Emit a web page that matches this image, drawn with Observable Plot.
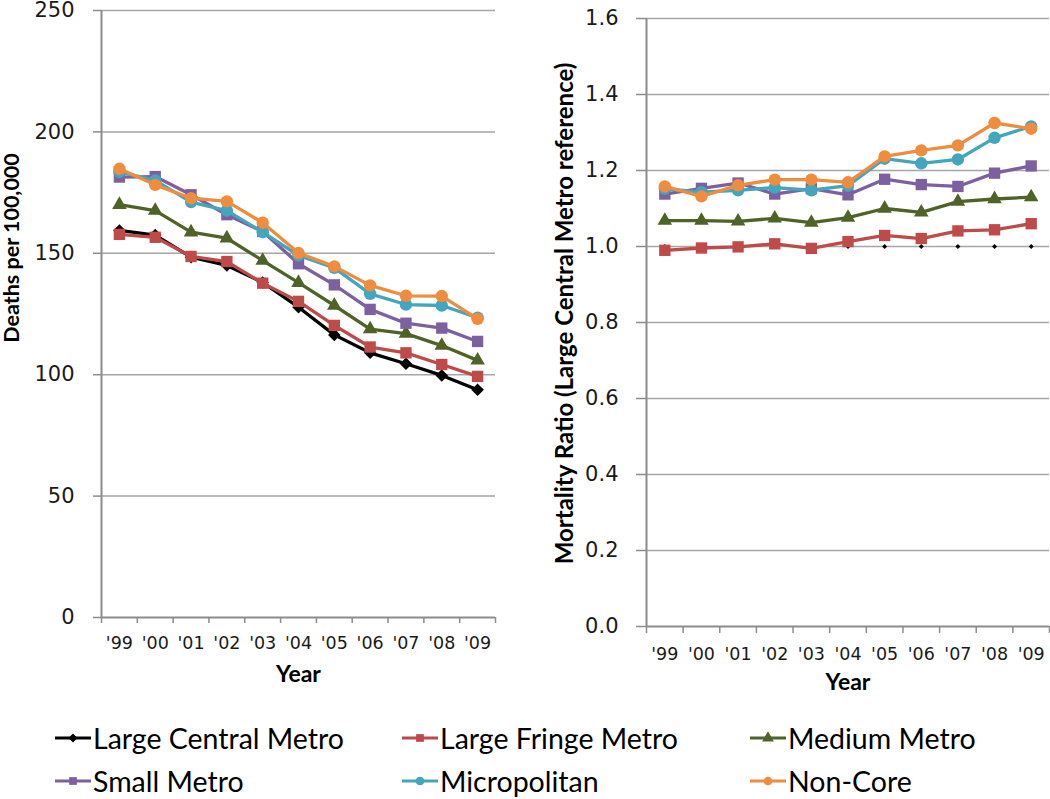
<!DOCTYPE html>
<html><head><meta charset="utf-8">
<script src="https://cdn.jsdelivr.net/npm/d3@7"></script>
<script src="https://cdn.jsdelivr.net/npm/@observablehq/plot@0.6"></script>
<style>
body{margin:0;background:#fff;width:1050px;height:799px;overflow:hidden;position:relative;font-family:Lato,sans-serif}
#left{position:absolute;left:0;top:0}
#right{position:absolute;left:530px;top:0}
#legend{position:absolute;left:55px;top:716px;display:grid;grid-template-columns:347px 348px auto;grid-auto-rows:43px;font-size:28.5px;color:#000}
.item{display:flex;align-items:center;white-space:nowrap}
.item svg{margin-right:2px}
</style></head><body>
<div id="left"></div><div id="right"></div><div id="legend"></div>
<script>
const years = [1999, 2000, 2001, 2002, 2003, 2004, 2005, 2006, 2007, 2008, 2009];
const yearLabels = ["'99", "'00", "'01", "'02", "'03", "'04", "'05", "'06", "'07", "'08", "'09"];
const seriesNames = ["Large Central Metro", "Large Fringe Metro", "Medium Metro", "Small Metro", "Micropolitan", "Non-Core"];
const seriesColors = ["#000000", "#BE4B48", "#4F6228", "#7D60A0", "#43A6BF", "#F08C3E"];
const seriesSymbols = ["diamond", "square", "triangle", "square", "circle", "circle"];

const deathsLargeCentral = [159.4, 157.5, 148.4, 145.0, 138.0, 127.8, 116.4, 109.0, 104.5, 99.7, 93.8];
const deathsLargeFringe  = [157.8, 156.6, 148.7, 146.6, 137.7, 130.2, 120.3, 111.4, 109.0, 104.2, 99.3];
const deathsMedium       = [170.0, 167.6, 158.7, 156.2, 147.0, 137.9, 128.5, 118.8, 116.9, 112.0, 105.9];
const deathsSmall        = [181.4, 181.6, 174.1, 165.9, 159.0, 145.7, 137.0, 126.9, 121.2, 119.2, 113.7];
const deathsMicro        = [183.5, 180.0, 171.1, 167.6, 158.7, 149.1, 144.0, 133.3, 128.9, 128.5, 123.5];
const deathsNonCore      = [184.8, 178.2, 172.7, 171.4, 162.6, 150.1, 144.6, 136.8, 132.5, 132.4, 123.0];

const ratioLargeCentral = [1.0, 1.0, 1.0, 1.0, 1.0, 1.0, 1.0, 1.0, 1.0, 1.0, 1.0];
const ratioLargeFringe  = [0.990, 0.996, 0.999, 1.007, 0.995, 1.013, 1.029, 1.021, 1.041, 1.044, 1.060];
const ratioMedium       = [1.068, 1.068, 1.066, 1.074, 1.063, 1.076, 1.100, 1.090, 1.118, 1.125, 1.130];
const ratioSmall        = [1.138, 1.153, 1.167, 1.138, 1.152, 1.136, 1.177, 1.163, 1.158, 1.193, 1.212];
const ratioMicro        = [1.152, 1.143, 1.148, 1.155, 1.148, 1.160, 1.231, 1.219, 1.229, 1.286, 1.316];
const ratioNonCore      = [1.158, 1.132, 1.161, 1.176, 1.176, 1.169, 1.237, 1.253, 1.266, 1.325, 1.310];

const deathTicks = [0, 50, 100, 150, 200, 250];
const ratioTicks = [0, 0.2, 0.4, 0.6, 0.8, 1.0, 1.2, 1.4, 1.6];

const deathSeries = [deathsLargeCentral, deathsLargeFringe, deathsMedium, deathsSmall, deathsMicro, deathsNonCore];
const ratioSeries = [ratioLargeCentral, ratioLargeFringe, ratioMedium, ratioSmall, ratioMicro, ratioNonCore];

const squareDiamond = {draw(ctx, size) { const s = Math.sqrt(size / 2); ctx.moveTo(0, -s); ctx.lineTo(s, 0); ctx.lineTo(0, s); ctx.lineTo(-s, 0); ctx.closePath(); }};
const symbolFor = s => s === "diamond" ? squareDiamond : s;
const radiusFor = s => s === "circle" ? 6.2 : s === "square" ? 6.4 : s === "triangle" ? 5.4 : 5;

const xDomain = [years[0] - 0.5, years[years.length - 1] + 0.5];
const edges = [...years.map(y => y - 0.5), years[years.length - 1] + 0.5];
const gridColor = "#a6a6a6";
const axisColor = "#8c8c8c";
const tickFont = "DejaVu Sans";

function rowsOf(arr, i) { return years.map((y, j) => ({year: y, value: arr[j], series: seriesNames[i]})); }

function seriesMarks(seriesArr, lineForFirst, firstR) {
  const marks = [];
  seriesArr.forEach((arr, i) => {
    const rows = rowsOf(arr, i);
    if (i > 0 || lineForFirst) marks.push(Plot.line(rows, {x: "year", y: "value", stroke: seriesColors[i], strokeWidth: 3.3}));
    marks.push(Plot.dot(rows, {x: "year", y: "value", symbol: symbolFor(seriesSymbols[i]), fill: seriesColors[i], stroke: "none",
      r: (i === 0 && firstR != null) ? firstR : radiusFor(seriesSymbols[i])}));
  });
  return marks;
}

function xAxes(tickLen, pad) {
  return [
    Plot.axisX({ticks: edges, tickSize: tickLen, tickFormat: () => "", stroke: axisColor, strokeWidth: 1.5, label: null}),
    Plot.axisX({ticks: years, tickSize: 0, tickPadding: pad, tickFormat: d => yearLabels[years.indexOf(d)], fontSize: 17.5, fill: "#1a1a1a", label: null})
  ];
}

const left = Plot.plot({
  width: 550, height: 700,
  marginLeft: 101, marginRight: 55, marginTop: 10, marginBottom: 83,
  x: {type: "linear", domain: xDomain},
  y: {domain: [0, 250]},
  style: {fontFamily: tickFont, background: "#fff", overflow: "visible"},
  marks: [
    Plot.ruleY(deathTicks.filter(d => d > 0), {stroke: gridColor, strokeWidth: 1.5}),
    Plot.axisY({ticks: deathTicks, tickSize: 8, tickPadding: 19, tickFormat: d3.format("d"), fontSize: 21, stroke: axisColor, strokeWidth: 1.5, fill: "#1a1a1a", label: null}),
    ...xAxes(6, 19),
    Plot.ruleY([deathTicks[0]], {stroke: axisColor, strokeWidth: 2}),
    Plot.ruleX([xDomain[0]], {stroke: axisColor, strokeWidth: 2}),
    ...seriesMarks(deathSeries, true),
    Plot.text(["Year"], {text: d => d, frameAnchor: "bottom", dy: 64, fontSize: 23, fontWeight: "bold", fontFamily: "Lato", fill: "#000"}),
    Plot.text(["Deaths per 100,000"], {text: d => d, frameAnchor: "left", textAnchor: "middle", rotate: -90, dx: -89, dy: -66, fontSize: 21.5, fontWeight: "bold", fontFamily: "Lato", fill: "#000"})
  ]
});
document.getElementById("left").appendChild(left);

const right = Plot.plot({
  width: 520, height: 710,
  marginLeft: 116, marginRight: 1, marginTop: 18, marginBottom: 84,
  x: {type: "linear", domain: xDomain},
  y: {domain: [0, 1.6]},
  style: {fontFamily: tickFont, background: "#fff", overflow: "visible"},
  marks: [
    Plot.ruleY(ratioTicks.filter(d => d > 0), {stroke: gridColor, strokeWidth: 1.5}),
    Plot.axisY({ticks: ratioTicks, tickSize: 10, tickPadding: 18, tickFormat: d3.format(".1f"), fontSize: 21, stroke: axisColor, strokeWidth: 1.5, fill: "#1a1a1a", label: null}),
    ...xAxes(7, 21),
    Plot.ruleY([ratioTicks[0]], {stroke: axisColor, strokeWidth: 2}),
    Plot.ruleX([xDomain[0]], {stroke: axisColor, strokeWidth: 2}),
    ...seriesMarks(ratioSeries, false, 2),
    Plot.text(["Year"], {text: d => d, frameAnchor: "bottom", dy: 63, fontSize: 23, fontWeight: "bold", fontFamily: "Lato", fill: "#000"}),
    Plot.text(["Mortality Ratio (Large Central Metro reference)"], {text: d => d, frameAnchor: "left", textAnchor: "middle", rotate: -90, dx: -81, dy: -9, fontSize: 24, fontWeight: "bold", fontFamily: "Lato", fill: "#000"})
  ]
});
document.getElementById("right").appendChild(right);

// legend
const legend = document.getElementById("legend");
seriesNames.forEach((name, i) => {
  const item = document.createElement("div");
  item.className = "item";
  const ns = "http://www.w3.org/2000/svg";
  const svg = document.createElementNS(ns, "svg");
  svg.setAttribute("width", 36); svg.setAttribute("height", 20);
  const line = document.createElementNS(ns, "line");
  line.setAttribute("x1", 0); line.setAttribute("x2", 36); line.setAttribute("y1", 10); line.setAttribute("y2", 10);
  line.setAttribute("stroke", seriesColors[i]); line.setAttribute("stroke-width", 3);
  svg.appendChild(line);
  const sym = seriesSymbols[i];
  const type = sym === "diamond" ? squareDiamond : sym === "square" ? d3.symbolSquare : sym === "triangle" ? d3.symbolTriangle : d3.symbolCircle;
  const path = document.createElementNS(ns, "path");
  path.setAttribute("d", d3.symbol(type, sym === "diamond" ? 40 : 60)());
  path.setAttribute("transform", "translate(18,10)");
  path.setAttribute("fill", seriesColors[i]);
  svg.appendChild(path);
  item.appendChild(svg);
  const span = document.createElement("span");
  span.textContent = name;
  item.appendChild(span);
  legend.appendChild(item);
});
</script>
</body></html>
